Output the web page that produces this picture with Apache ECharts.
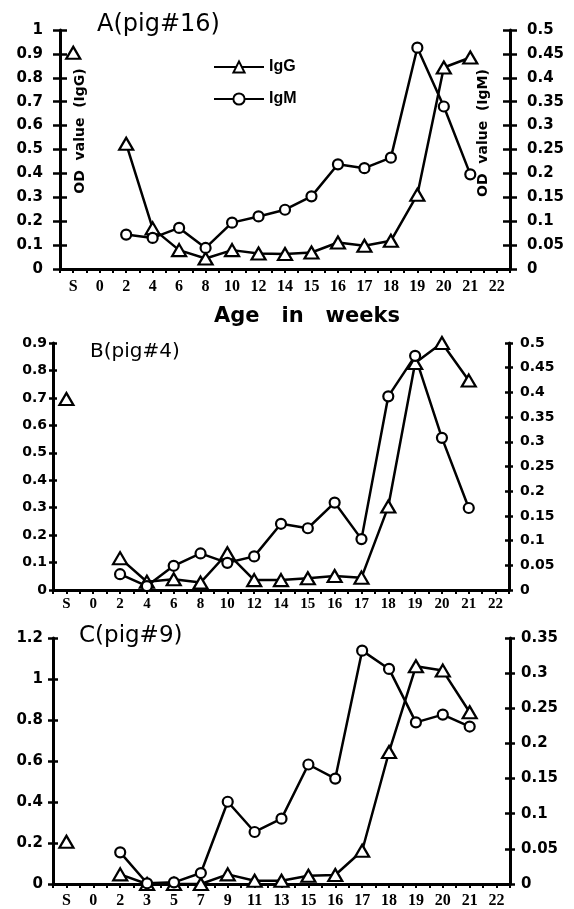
<!DOCTYPE html>
<html>
<head>
<meta charset="utf-8">
<script src="https://cdn.jsdelivr.net/npm/echarts@6/dist/echarts.min.js"></script>
<style>
html,body{margin:0;padding:0;background:#fff;}
#chart{width:574px;height:909px;}
</style>
</head>
<body>
<div id="chart"></div>
<script>
// ---- data ----
const categoriesAB = ['S','0','2','4','6','8','10','12','14','15','16','17','18','19','20','21','22'];
const categoriesC  = ['S','0','2','3','5','7','9','11','13','15','16','17','18','19','20','21','22'];

const igG_A = [0.905, null, 0.524, 0.17, 0.079, 0.044, 0.079, 0.065, 0.063, 0.069, 0.111, 0.097, 0.118, 0.311, 0.843, 0.885, null];
const igM_A = [null, null, 0.072, 0.065, 0.086, 0.044, 0.097, 0.11, 0.124, 0.152, 0.219, 0.211, 0.233, 0.463, 0.34, 0.198, null];

const igG_B = [0.696, null, 0.116, 0.03, 0.039, 0.027, 0.134, 0.036, 0.036, 0.043, 0.051, 0.045, 0.304, 0.827, 0.9, 0.763, null];
const igM_B = [null, null, 0.032, 0.008, 0.049, 0.074, 0.055, 0.068, 0.134, 0.125, 0.177, 0.103, 0.392, 0.474, 0.308, 0.166, null];

const igG_C = [0.206, null, 0.047, 0.0, 0.0, 0.0, 0.047, 0.016, 0.016, 0.04, 0.044, 0.162, 0.644, 1.062, 1.041, 0.838, null];
const igM_C = [null, null, 0.045, 0.001, 0.0024, 0.0156, 0.117, 0.074, 0.093, 0.170, 0.150, 0.332, 0.306, 0.230, 0.241, 0.224, null];

const panelTitles = ['A(pig#16)', 'B(pig#4)', 'C(pig#9)'];
const leftAxisMax = [1, 0.9, 1.2];
const leftAxisStep = [0.1, 0.1, 0.2];
const rightAxisMax = [0.5, 0.5, 0.35];
const rightAxisStep = [0.05, 0.05, 0.05];

// ---- layout ----
const grids = [
  {left: 60, top: 30, width: 450, height: 239},
  {left: 53, top: 343, width: 456, height: 247},
  {left: 53, top: 638, width: 457, height: 247}
];
const yLabelFont = [15, 14, 15];
const xLabelFont = [16, 15, 16];
const xLabelMargin = [10, 7, 9];
const yLabelMarginL = [17, 6, 10];
const yLabelMarginR = [17, 11, 11];
const tickLen = [7, 4, 5];

const black = '#000';
const xAxes = [], yAxes = [], series = [];
const cats = [categoriesAB, categoriesAB, categoriesC];
const dataG = [igG_A, igG_B, igG_C];
const dataM = [igM_A, igM_B, igM_C];

for (let p = 0; p < 3; p++) {
  xAxes.push({
    type: 'category', gridIndex: p, data: cats[p], position: 'bottom', boundaryGap: true,
    axisLine: {show: true, lineStyle: {color: black, width: 3}},
    axisTick: {show: true, alignWithLabel: true, length: 4, lineStyle: {color: black, width: 2}},
    axisLabel: {interval: 0, color: black, fontFamily: 'Liberation Serif', fontWeight: 'bold', fontSize: xLabelFont[p], margin: xLabelMargin[p]},
    splitLine: {show: false}
  });
  xAxes.push({
    type: 'category', gridIndex: p, data: cats[p], position: 'bottom', boundaryGap: true,
    axisLine: {show: false},
    axisTick: {show: true, alignWithLabel: false, interval: 0, length: 4, lineStyle: {color: black, width: 2}},
    axisLabel: {show: false}, splitLine: {show: false}
  });
  const mk = (pos, max, step, withLabel, inside, margin) => ({
    type: 'value', gridIndex: p, position: pos, min: 0, max: max, interval: step,
    axisLine: {show: withLabel, onZero: false, lineStyle: {color: black, width: 3}},
    axisTick: {show: true, inside: inside, length: tickLen[p], lineStyle: {color: black, width: 2.5}},
    axisLabel: {show: withLabel, color: black, fontFamily: 'DejaVu Sans', fontWeight: 'bold', fontSize: yLabelFont[p], margin: margin},
    splitLine: {show: false}
  });
  yAxes.push(mk('left', leftAxisMax[p], leftAxisStep[p], true, false, yLabelMarginL[p]));
  yAxes.push(mk('left', leftAxisMax[p], leftAxisStep[p], false, true, 0));
  yAxes.push(mk('right', rightAxisMax[p], rightAxisStep[p], true, false, yLabelMarginR[p]));
  yAxes.push(mk('right', rightAxisMax[p], rightAxisStep[p], false, true, 0));

  series.push({
    name: 'IgG', type: 'line', xAxisIndex: p * 2, yAxisIndex: p * 4, data: dataG[p],
    symbol: 'triangle', symbolSize: [14, 12], connectNulls: false,
    lineStyle: {color: black, width: 2.5},
    itemStyle: {color: '#fff', borderColor: black, borderWidth: 2.2},
    z: 3
  });
  series.push({
    name: 'IgM', type: 'line', xAxisIndex: p * 2, yAxisIndex: p * 4 + 2, data: dataM[p],
    symbol: 'circle', symbolSize: 10, connectNulls: false,
    lineStyle: {color: black, width: 2.5},
    itemStyle: {color: '#fff', borderColor: black, borderWidth: 2.2},
    z: 3
  });
}

const txt = (text, x, y, font, rot, align) => ({
  type: 'text', x: x, y: y, rotation: rot || 0,
  style: {text: text, font: font, fill: black, textAlign: align || 'left', textVerticalAlign: 'middle'}
});

const option = {
  animation: false,
  backgroundColor: '#fff',
  grid: grids.map(g => Object.assign({containLabel: false}, g)),
  xAxis: xAxes,
  yAxis: yAxes,
  series: series,
  legend: {
    data: ['IgG', 'IgM'], orient: 'vertical', left: 213, top: 59,
    itemWidth: 50, itemHeight: 14, itemGap: 16, padding: 0,
    textStyle: {fontFamily: 'Liberation Sans', fontWeight: 'bold', fontSize: 16, color: black},
    selectedMode: false
  },
  graphic: [
    txt(panelTitles[0], 97, 25, '24px "DejaVu Sans"'),
    txt(panelTitles[1], 90, 352, '20px "DejaVu Sans"'),
    txt(panelTitles[2], 79, 636, '23px "DejaVu Sans"'),
    txt('Age   in   weeks', 307, 317, 'bold 21px "DejaVu Sans"', 0, 'center'),
    txt('OD  value  (IgG)', 80, 131, 'bold 14px "DejaVu Sans"', Math.PI / 2, 'center'),
    txt('OD  value  (IgM)', 483, 133, 'bold 14px "DejaVu Sans"', Math.PI / 2, 'center')
  ]
};

const chart = echarts.init(document.getElementById('chart'), null, {renderer: 'canvas'});
chart.setOption(option);
</script>
</body>
</html>
